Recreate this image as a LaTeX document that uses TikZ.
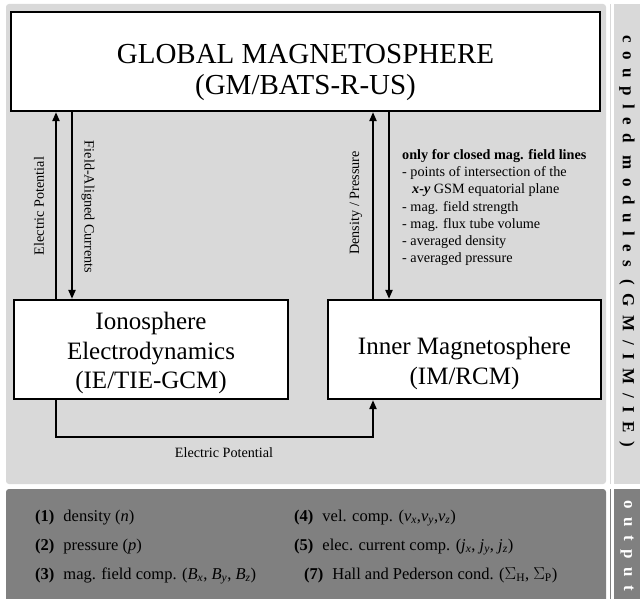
\documentclass[tikz,border=0pt]{standalone}
\usepackage{fontspec}
\setmainfont{Liberation Serif}
\newfontfamily\spacedfont{Liberation Serif}[LetterSpace=50]
\usetikzlibrary{arrows.meta}
\definecolor{lightbg}{HTML}{D9D9D9}
\definecolor{darkbg}{HTML}{808080}
\newcommand\mysub[2]{\textit{#1}\textsubscript{\textit{#2}}}
\begin{document}
\begin{tikzpicture}[x=1pt,y=-1pt,
  box/.style={draw=black, line width=2.2pt, fill=white, inner sep=0pt},
  conn/.style={line width=2pt},
  arr/.style={conn, -{Triangle[length=9pt,width=7pt]}},
  lbl/.style={font=\fontsize{14.2}{17.3}\selectfont, inner sep=0pt},
  bigtxt/.style={align=center, inner sep=0pt},
  outtxt/.style={font=\fontsize{16.5}{19}\selectfont, inner sep=0pt, anchor=base west},
  coltxt/.style={font=\spacedfont\bfseries\fontsize{17}{20}\selectfont, inner sep=0pt, rotate=-90}]
\useasboundingbox (0,0) rectangle (640,599);
\fill[white] (0,0) rectangle (640,599);
% regions
\fill[lightbg, rounded corners=3pt] (6,4) rectangle (606,484);
\fill[darkbg, rounded corners=3pt] (6,489) rectangle (606,603);
\fill[lightbg] (609.5,4) rectangle (640,484);
\fill[darkbg] (609.5,489) rectangle (640,599);
\draw[white, line width=2.5pt] (612.3,0) -- (612.3,599);
% boxes
\node[box, minimum width=589pt, minimum height=99pt] (gm) at (305.5,61.5) {};
\node[box, minimum width=274pt, minimum height=99pt] (ie) at (151,349.5) {};
\node[box, minimum width=273pt, minimum height=99pt] (im) at (464.5,349.5) {};
\node[bigtxt, font=\fontsize{29}{31}\selectfont] (gmtext) at (305.5,72) {GLOBAL MAGNETOSPHERE\\(GM/BATS-R-US)};
\node[bigtxt, font=\fontsize{25}{29.5}\selectfont] (ietext) at (151,353) {Ionosphere\\Electrodynamics\\(IE/TIE-GCM)};
\node[bigtxt, font=\fontsize{25}{30}\selectfont] (imtext) at (464.5,363) {Inner Magnetosphere\\(IM/RCM)};
% connectors
\coordinate (xa) at (56,0);
\coordinate (xb) at (72,0);
\coordinate (xc) at (373,0);
\coordinate (xd) at (389,0);
\coordinate (ybot) at (0,437);
\draw[arr] (xa |- ie.north) -- (xa |- gm.south);
\draw[arr] (xb |- gm.south) -- (xb |- ie.north);
\draw[arr] (xc |- im.north) -- (xc |- gm.south);
\draw[arr] (xd |- gm.south) -- (xd |- im.north);
\draw[arr] (xa |- ie.south) -- (xa |- ybot) -- (xc |- ybot) -- (xc |- im.south);
% connector labels
\node[lbl, rotate=90] (lep) at (39,206) {Electric Potential};
\node[lbl, rotate=-90] (lfac) at (88,207) {Field-Aligned Currents};
\node[lbl, rotate=90] (ldp) at (356,203) {Density / Pressure};
\node[lbl] (lep2) at (224,453) {Electric Potential};
\node[lbl, align=left, anchor=north west] (info) at (402,149)
 {\textbf{only for closed mag. field lines}\\
  - points of intersection of the\\
  \hspace*{10pt}\textbf{\textit{x-y}} GSM equatorial plane\\
  - mag. field strength\\
  - mag. flux tube volume\\
  - averaged density\\
  - averaged pressure};
% output rows
\node[outtxt] (o1) at (35,521) {\textbf{(1)}\hspace{9pt}density (\textit{n})};
\node[outtxt] (o2) at (35,550) {\textbf{(2)}\hspace{9pt}pressure (\textit{p})};
\node[outtxt] (o3) at (35,579) {\textbf{(3)}\hspace{9pt}mag. field comp. (\mysub{B}{x}, \mysub{B}{y}, \mysub{B}{z})};
\node[outtxt] (o4) at (294,521) {\textbf{(4)}\hspace{9pt}vel. comp. (\mysub{v}{x},\mysub{v}{y},\mysub{v}{z})};
\node[outtxt] (o5) at (294,550) {\textbf{(5)}\hspace{9pt}elec. current comp. (\mysub{j}{x}, \mysub{j}{y}, \mysub{j}{z})};
\node[outtxt] (o7) at (304,579) {\textbf{(7)}\hspace{9pt}Hall and Pederson cond. ($\Sigma$\textsubscript{H}, $\Sigma$\textsubscript{P})};
% side column texts
\node[coltxt] (coupled) at (627,241) {coupled modules (GM/IM/IE)};
\node[coltxt, text=white] (output) at (627,546) {output};
\end{tikzpicture}
\end{document}
